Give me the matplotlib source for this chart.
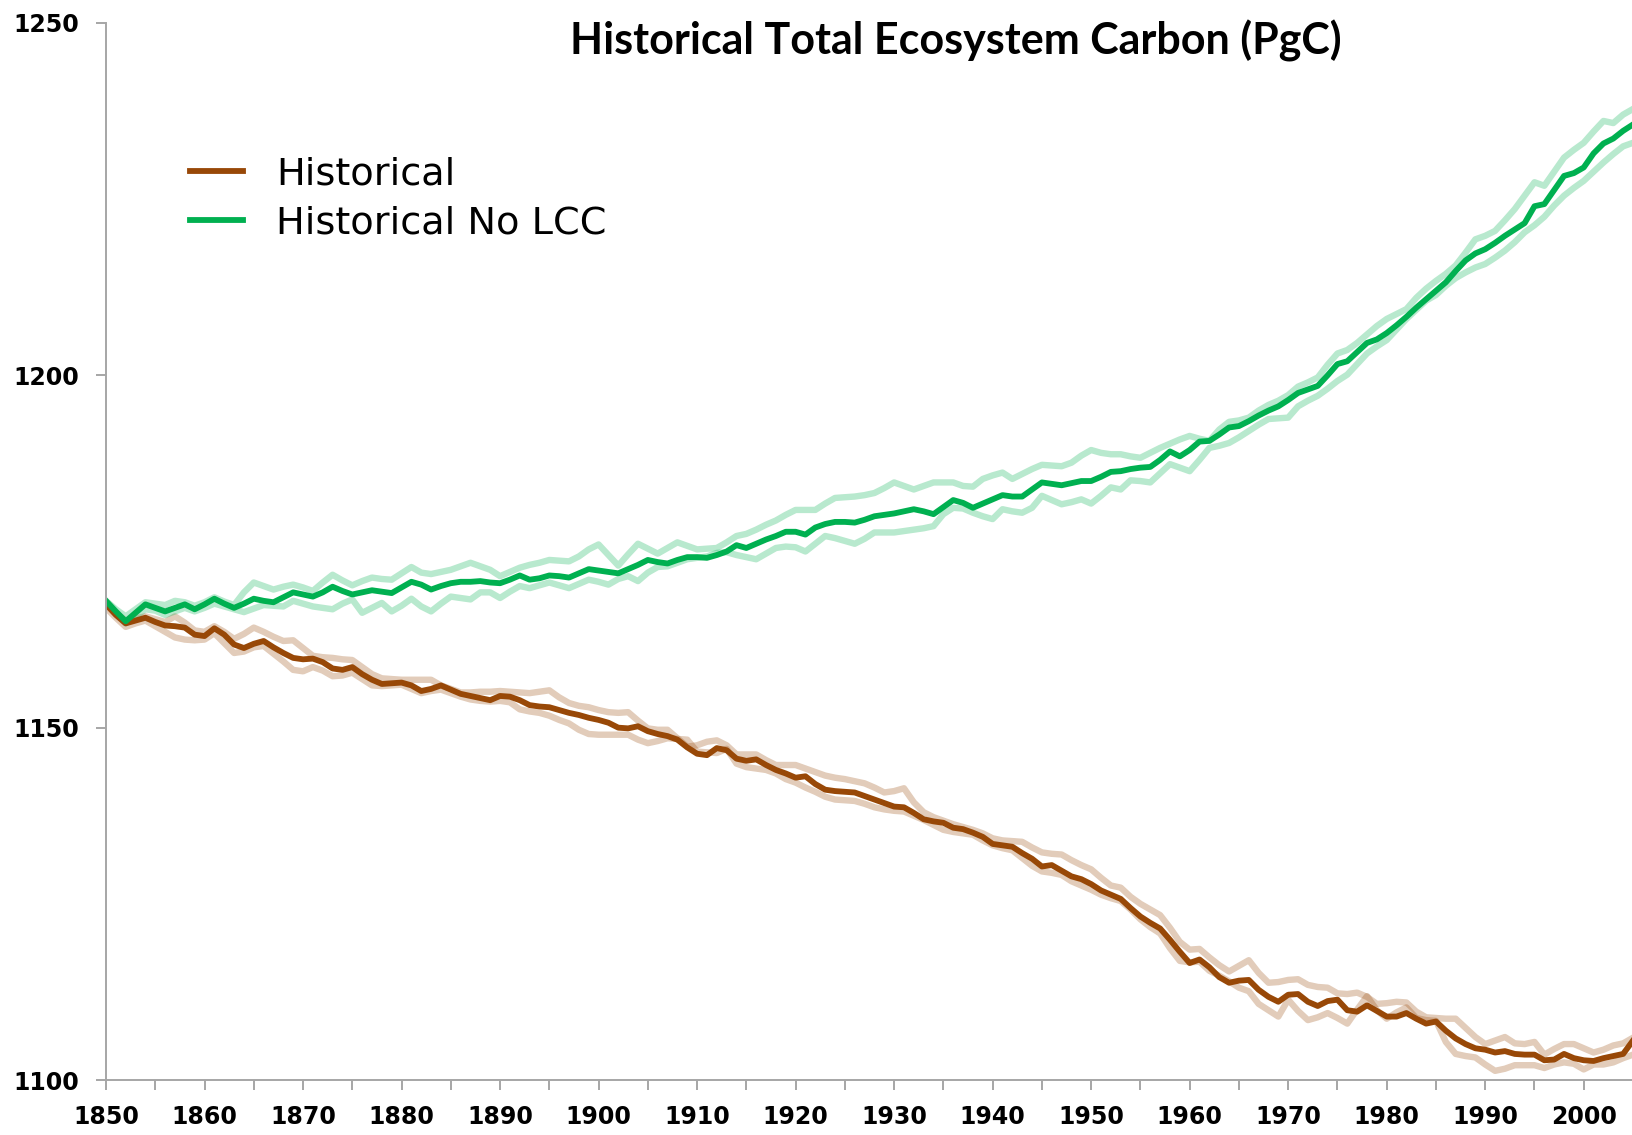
import numpy as np
import matplotlib
matplotlib.use("Agg")
from matplotlib import pyplot as plt

years = np.arange(1850, 2006)

# main runs (PgC), one value per year 1850-2005
hist = [
    1167.5, 1166.0, 1164.8, 1165.2, 1165.6, 1165.0, 1164.5, 1164.4, 1164.2, 1163.2,
    1163.0, 1164.1, 1163.2, 1161.8, 1161.3, 1161.9, 1162.3, 1161.4, 1160.6, 1159.9,
    1159.7, 1159.8, 1159.3, 1158.4, 1158.2, 1158.6, 1157.6, 1156.8, 1156.2, 1156.3,
    1156.4, 1156.0, 1155.2, 1155.5, 1156.0, 1155.4, 1154.8, 1154.5, 1154.2, 1153.9,
    1154.5, 1154.4, 1153.9, 1153.2, 1153.0, 1152.9, 1152.5, 1152.1, 1151.8, 1151.4,
    1151.1, 1150.7, 1150.0, 1149.9, 1150.2, 1149.5, 1149.1, 1148.8, 1148.3, 1147.2,
    1146.3, 1146.1, 1147.1, 1146.8, 1145.6, 1145.3, 1145.5, 1144.7, 1144.0, 1143.5,
    1142.9, 1143.1, 1142.0, 1141.2, 1141.0, 1140.9, 1140.8, 1140.3, 1139.8, 1139.3,
    1138.8, 1138.7, 1137.9, 1137.0, 1136.7, 1136.5, 1135.8, 1135.6, 1135.1, 1134.5,
    1133.5, 1133.3, 1133.1, 1132.2, 1131.4, 1130.3, 1130.5, 1129.7, 1128.9, 1128.5,
    1127.8, 1126.9, 1126.3, 1125.7, 1124.4, 1123.2, 1122.3, 1121.5, 1119.9, 1118.2,
    1116.6, 1117.1, 1116.0, 1114.6, 1113.8, 1114.1, 1114.2, 1112.8, 1111.8, 1111.1,
    1112.1, 1112.2, 1111.1, 1110.5, 1111.2, 1111.4, 1109.9, 1109.7, 1110.6, 1109.8,
    1109.0, 1109.0, 1109.5, 1108.7, 1108.0, 1108.3, 1107.0, 1105.9, 1105.1, 1104.5,
    1104.3, 1103.9, 1104.1, 1103.7, 1103.6, 1103.6, 1102.8, 1102.9, 1103.7, 1103.1,
    1102.8, 1102.7, 1103.1, 1103.4, 1103.7, 1105.6,
]
nolcc = [
    1168.0, 1166.5, 1165.1, 1166.3, 1167.5, 1167.0, 1166.5, 1167.0, 1167.5, 1166.8,
    1167.5, 1168.3, 1167.6, 1167.0, 1167.6, 1168.3, 1168.0, 1167.8, 1168.5, 1169.2,
    1168.9, 1168.6, 1169.2, 1170.0, 1169.4, 1168.9, 1169.2, 1169.5, 1169.3, 1169.1,
    1169.9, 1170.7, 1170.3, 1169.6, 1170.1, 1170.5, 1170.7, 1170.7, 1170.8, 1170.6,
    1170.5, 1171.0, 1171.6, 1171.0, 1171.2, 1171.6, 1171.5, 1171.3, 1171.9, 1172.5,
    1172.3, 1172.1, 1171.9, 1172.5, 1173.1, 1173.8, 1173.5, 1173.3, 1173.8, 1174.2,
    1174.2, 1174.1, 1174.5, 1175.0, 1175.9, 1175.5, 1176.1, 1176.7, 1177.2, 1177.8,
    1177.8, 1177.4, 1178.4, 1178.9, 1179.2, 1179.2, 1179.1, 1179.5, 1180.0, 1180.2,
    1180.4, 1180.7, 1181.0, 1180.7, 1180.3, 1181.3, 1182.3, 1181.9, 1181.2, 1181.8,
    1182.4, 1183.0, 1182.8, 1182.8, 1183.8, 1184.8, 1184.6, 1184.4, 1184.7, 1185.0,
    1185.0, 1185.6, 1186.3, 1186.4, 1186.7, 1186.9, 1187.0, 1188.0, 1189.2, 1188.5,
    1189.4, 1190.6, 1190.7, 1191.6, 1192.6, 1192.8, 1193.5, 1194.3, 1195.0, 1195.6,
    1196.5, 1197.5, 1198.0, 1198.5, 1200.0, 1201.6, 1202.0, 1203.3, 1204.6, 1205.1,
    1206.0, 1207.1, 1208.3, 1209.6, 1210.8, 1212.0, 1213.2, 1214.8, 1216.3, 1217.3,
    1217.9, 1218.8, 1219.8, 1220.7, 1221.6, 1224.0, 1224.3, 1226.3, 1228.3, 1228.7,
    1229.5, 1231.5, 1232.9, 1233.6, 1234.7, 1235.6,
]

# individual ensemble members (light lines)
hist_a = [
    1167.6, 1166.2, 1165.2, 1165.5, 1165.8, 1165.4, 1165.0, 1165.8, 1164.9, 1163.8,
    1163.6, 1164.4, 1163.6, 1162.6, 1163.3, 1164.2, 1163.6, 1162.9, 1162.3, 1162.4,
    1161.3, 1160.2, 1160.0, 1159.9, 1159.7, 1159.6, 1158.6, 1157.6, 1157.0, 1156.9,
    1156.8, 1156.8, 1156.8, 1156.8, 1156.0, 1155.5, 1155.0, 1155.0, 1155.1, 1155.1,
    1155.2, 1155.1, 1155.0, 1154.9, 1155.1, 1155.3, 1154.3, 1153.5, 1153.1, 1152.9,
    1152.5, 1152.2, 1152.1, 1152.2, 1151.0, 1149.9, 1149.7, 1149.7, 1148.5, 1147.3,
    1147.5, 1148.0, 1148.2, 1147.5, 1146.2, 1146.2, 1146.2, 1145.4, 1144.7, 1144.7,
    1144.7, 1144.2, 1143.7, 1143.2, 1142.9, 1142.7, 1142.4, 1142.1, 1141.5, 1140.8,
    1141.0, 1141.4, 1139.4, 1138.0, 1137.3, 1136.8, 1136.3, 1135.9, 1135.5, 1135.0,
    1134.3, 1134.0, 1133.9, 1133.8, 1133.0, 1132.3, 1132.1, 1132.0, 1131.2, 1130.5,
    1129.9, 1128.7, 1127.6, 1127.3, 1126.0, 1125.0, 1124.2, 1123.4, 1121.6, 1119.6,
    1118.5, 1118.6, 1117.4, 1116.3, 1115.4, 1116.2, 1117.0, 1115.2, 1113.8, 1113.9,
    1114.2, 1114.3, 1113.5, 1113.2, 1113.1, 1112.3, 1112.2, 1112.4, 1111.8, 1110.8,
    1110.9, 1111.1, 1111.0, 1109.7, 1108.9, 1108.8, 1108.7, 1108.7, 1107.4, 1106.1,
    1105.1, 1105.6, 1106.1, 1105.2, 1105.1, 1105.4, 1103.6, 1104.4, 1105.1, 1105.1,
    1104.5, 1103.9, 1104.3, 1104.9, 1105.2, 1106.0,
]
hist_b = [
    1167.0, 1165.6, 1164.3, 1164.8, 1165.2, 1164.4, 1163.6, 1162.8, 1162.5, 1162.4,
    1162.5, 1163.4, 1162.0, 1160.6, 1160.8, 1161.4, 1161.6, 1160.5, 1159.4, 1158.2,
    1158.0, 1158.6, 1158.1, 1157.3, 1157.4, 1157.8, 1156.9, 1156.0, 1155.9, 1156.0,
    1156.1, 1155.5, 1154.9, 1155.2, 1155.4, 1154.9, 1154.4, 1154.0, 1153.8, 1153.7,
    1153.8, 1153.6, 1152.6, 1152.3, 1152.1, 1151.7, 1151.1, 1150.6, 1149.7, 1149.1,
    1149.0, 1149.0, 1149.0, 1149.0, 1148.3, 1147.8, 1148.1, 1148.5, 1148.4, 1148.3,
    1146.6, 1146.5, 1146.4, 1147.0, 1144.9, 1144.4, 1144.2, 1144.0, 1143.5, 1142.7,
    1142.2, 1141.5, 1140.9, 1140.2, 1139.8, 1139.7, 1139.6, 1139.2, 1138.7, 1138.4,
    1138.2, 1138.1, 1137.5, 1136.9, 1136.2, 1135.5, 1135.2, 1135.0, 1134.8, 1134.0,
    1133.3, 1132.9, 1132.6, 1131.5, 1130.4, 1129.6, 1129.4, 1129.1, 1128.2, 1127.6,
    1127.0, 1126.3, 1125.8, 1125.4, 1124.2, 1122.8, 1121.7, 1120.8, 1118.7, 1116.9,
    1116.7, 1116.8, 1115.5, 1114.8, 1114.0, 1113.1, 1112.6, 1110.8, 1109.9, 1109.0,
    1111.4, 1109.8, 1108.5, 1108.9, 1109.5, 1108.8, 1108.0, 1110.0, 1111.9, 1109.9,
    1108.7, 1109.6, 1110.3, 1108.8, 1108.5, 1108.4, 1105.4, 1103.7, 1103.4, 1103.2,
    1102.2, 1101.3, 1101.6, 1102.1, 1102.1, 1102.1, 1101.7, 1102.2, 1102.5, 1102.3,
    1101.5, 1102.2, 1102.2, 1102.5, 1103.1, 1103.6,
]
nolcc_a = [
    1168.0, 1166.8, 1165.8, 1166.8, 1167.8, 1167.6, 1167.4, 1168.0, 1167.8, 1167.3,
    1167.8, 1168.5, 1167.9, 1167.4, 1169.2, 1170.6, 1170.1, 1169.6, 1170.0, 1170.3,
    1169.9, 1169.4, 1170.6, 1171.7, 1170.9, 1170.2, 1170.8, 1171.3, 1171.1, 1171.0,
    1171.9, 1172.8, 1172.0, 1171.8, 1172.1, 1172.4, 1172.9, 1173.4, 1172.9, 1172.4,
    1171.5, 1172.1, 1172.7, 1173.1, 1173.4, 1173.8, 1173.7, 1173.6, 1174.3, 1175.3,
    1176.0, 1174.5, 1173.0, 1174.6, 1176.1, 1175.4, 1174.7, 1175.5, 1176.3, 1175.8,
    1175.3, 1175.4, 1175.5, 1176.3, 1177.2, 1177.5, 1178.1, 1178.8, 1179.4, 1180.2,
    1180.9, 1180.9, 1180.9, 1181.8, 1182.6, 1182.7, 1182.8, 1183.0, 1183.3, 1184.0,
    1184.8, 1184.3, 1183.8, 1184.3, 1184.8, 1184.8, 1184.8, 1184.3, 1184.2, 1185.3,
    1185.8, 1186.2, 1185.3, 1186.0, 1186.7, 1187.3, 1187.2, 1187.1, 1187.6, 1188.6,
    1189.4, 1189.0, 1188.8, 1188.8, 1188.5, 1188.3, 1189.0, 1189.7, 1190.3, 1190.9,
    1191.4, 1191.0, 1190.7, 1192.3, 1193.4, 1193.6, 1194.0, 1195.0, 1195.8, 1196.4,
    1197.2, 1198.4, 1199.0, 1199.7, 1201.5, 1203.1, 1203.6, 1204.6, 1205.8, 1207.0,
    1208.0, 1208.7, 1209.4, 1211.0, 1212.3, 1213.4, 1214.4, 1215.6, 1217.4, 1219.3,
    1219.8, 1220.5, 1222.0, 1223.6, 1225.5, 1227.4, 1226.9, 1228.9, 1230.9, 1232.0,
    1233.0, 1234.6, 1236.1, 1235.8, 1237.0, 1237.8,
]
nolcc_b = [
    1167.6, 1166.2, 1164.8, 1165.8, 1166.8, 1166.6, 1166.0, 1166.5, 1167.0, 1166.5,
    1167.0, 1167.6, 1167.2, 1166.8, 1166.4, 1166.9, 1167.4, 1167.3, 1167.2, 1168.0,
    1167.6, 1167.2, 1167.0, 1166.8, 1167.6, 1168.2, 1166.3, 1167.0, 1167.7, 1166.5,
    1167.3, 1168.3, 1167.2, 1166.5, 1167.6, 1168.6, 1168.4, 1168.2, 1169.2, 1169.2,
    1168.4, 1169.3, 1170.1, 1169.8, 1170.2, 1170.6, 1170.2, 1169.8, 1170.4, 1171.0,
    1170.7, 1170.3, 1171.1, 1171.5, 1170.8, 1172.0, 1172.8, 1172.9, 1173.4, 1173.9,
    1174.1, 1174.3, 1174.8, 1174.9, 1174.5, 1174.2, 1173.9, 1174.7, 1175.5, 1175.7,
    1175.6, 1175.0, 1176.1, 1177.2, 1176.9, 1176.5, 1176.1, 1176.8, 1177.7, 1177.7,
    1177.7, 1177.9, 1178.1, 1178.3, 1178.6, 1180.3, 1181.2, 1181.1, 1180.5, 1180.0,
    1179.6, 1181.0, 1180.7, 1180.5, 1181.2, 1182.9, 1182.3, 1181.7, 1182.0, 1182.4,
    1181.8, 1182.9, 1184.1, 1183.8, 1185.1, 1185.0, 1184.8, 1186.1, 1187.4, 1186.9,
    1186.4, 1188.0, 1189.7, 1190.0, 1190.4, 1191.2, 1192.1, 1193.0, 1193.8, 1193.9,
    1194.0, 1195.6, 1196.4, 1197.1, 1198.1, 1199.2, 1200.1, 1201.6, 1203.1, 1204.1,
    1205.0, 1206.5, 1208.0, 1209.3, 1210.6, 1211.4, 1212.7, 1213.8, 1214.6, 1215.3,
    1215.8, 1216.7, 1217.7, 1218.9, 1220.3, 1221.3, 1222.5, 1224.1, 1225.5, 1226.6,
    1227.6, 1228.9, 1230.2, 1231.4, 1232.5, 1233.0,
]

for s in (hist, nolcc, hist_a, hist_b, nolcc_a, nolcc_b):
    assert len(s) == len(years)

brown = '#984807'
green = '#00B050'
axis_grey = '#A6A6A6'

fig = plt.figure(figsize=(16.33, 11.35), dpi=100)
ax = fig.add_axes([106 / 1633, 55 / 1135, 1 - 106 / 1633, 1057 / 1135])

for s in (hist_a, hist_b):
    ax.plot(years, s, color=brown, alpha=0.28, lw=4.6, solid_joinstyle='round')
for s in (nolcc_a, nolcc_b):
    ax.plot(years, s, color=green, alpha=0.28, lw=4.6, solid_joinstyle='round')
l1, = ax.plot(years, hist, color=brown, lw=4.2, solid_joinstyle='round', label='Historical')
l2, = ax.plot(years, nolcc, color=green, lw=4.2, solid_joinstyle='round', label='Historical No LCC')

ax.set_xlim(1850, 2005)
ax.set_ylim(1100, 1250)
ax.set_xticks(np.arange(1850, 2001, 10))
ax.set_xticks(np.arange(1855, 2006, 10), minor=True)
ax.set_yticks([1100, 1150, 1200, 1250])

for side in ('top', 'right'):
    ax.spines[side].set_visible(False)
for side in ('left', 'bottom'):
    ax.spines[side].set_color(axis_grey)
    ax.spines[side].set_linewidth(1.4)

ax.tick_params(axis='x', which='both', direction='out', length=7, width=1.4,
               color=axis_grey, pad=11, labelsize=17)
ax.tick_params(axis='y', which='major', direction='out', length=7, width=1.4,
               color=axis_grey, pad=12, labelsize=17)
for lab in ax.get_xticklabels() + ax.get_yticklabels():
    lab.set_fontweight('bold')

fig.text(956 / 1633, 1 - 41 / 1135, 'Historical Total Ecosystem Carbon (PgC)',
         ha='center', va='center', fontsize=31, fontweight='bold', family='Lato')

ax.legend(handles=[l1, l2], loc='upper left', bbox_to_anchor=(0.045, 0.888),
          frameon=False, fontsize=27.5, handlelength=1.4, handletextpad=0.85,
          labelspacing=0.33, borderaxespad=0)

fig.savefig('out.png', dpi=100)
